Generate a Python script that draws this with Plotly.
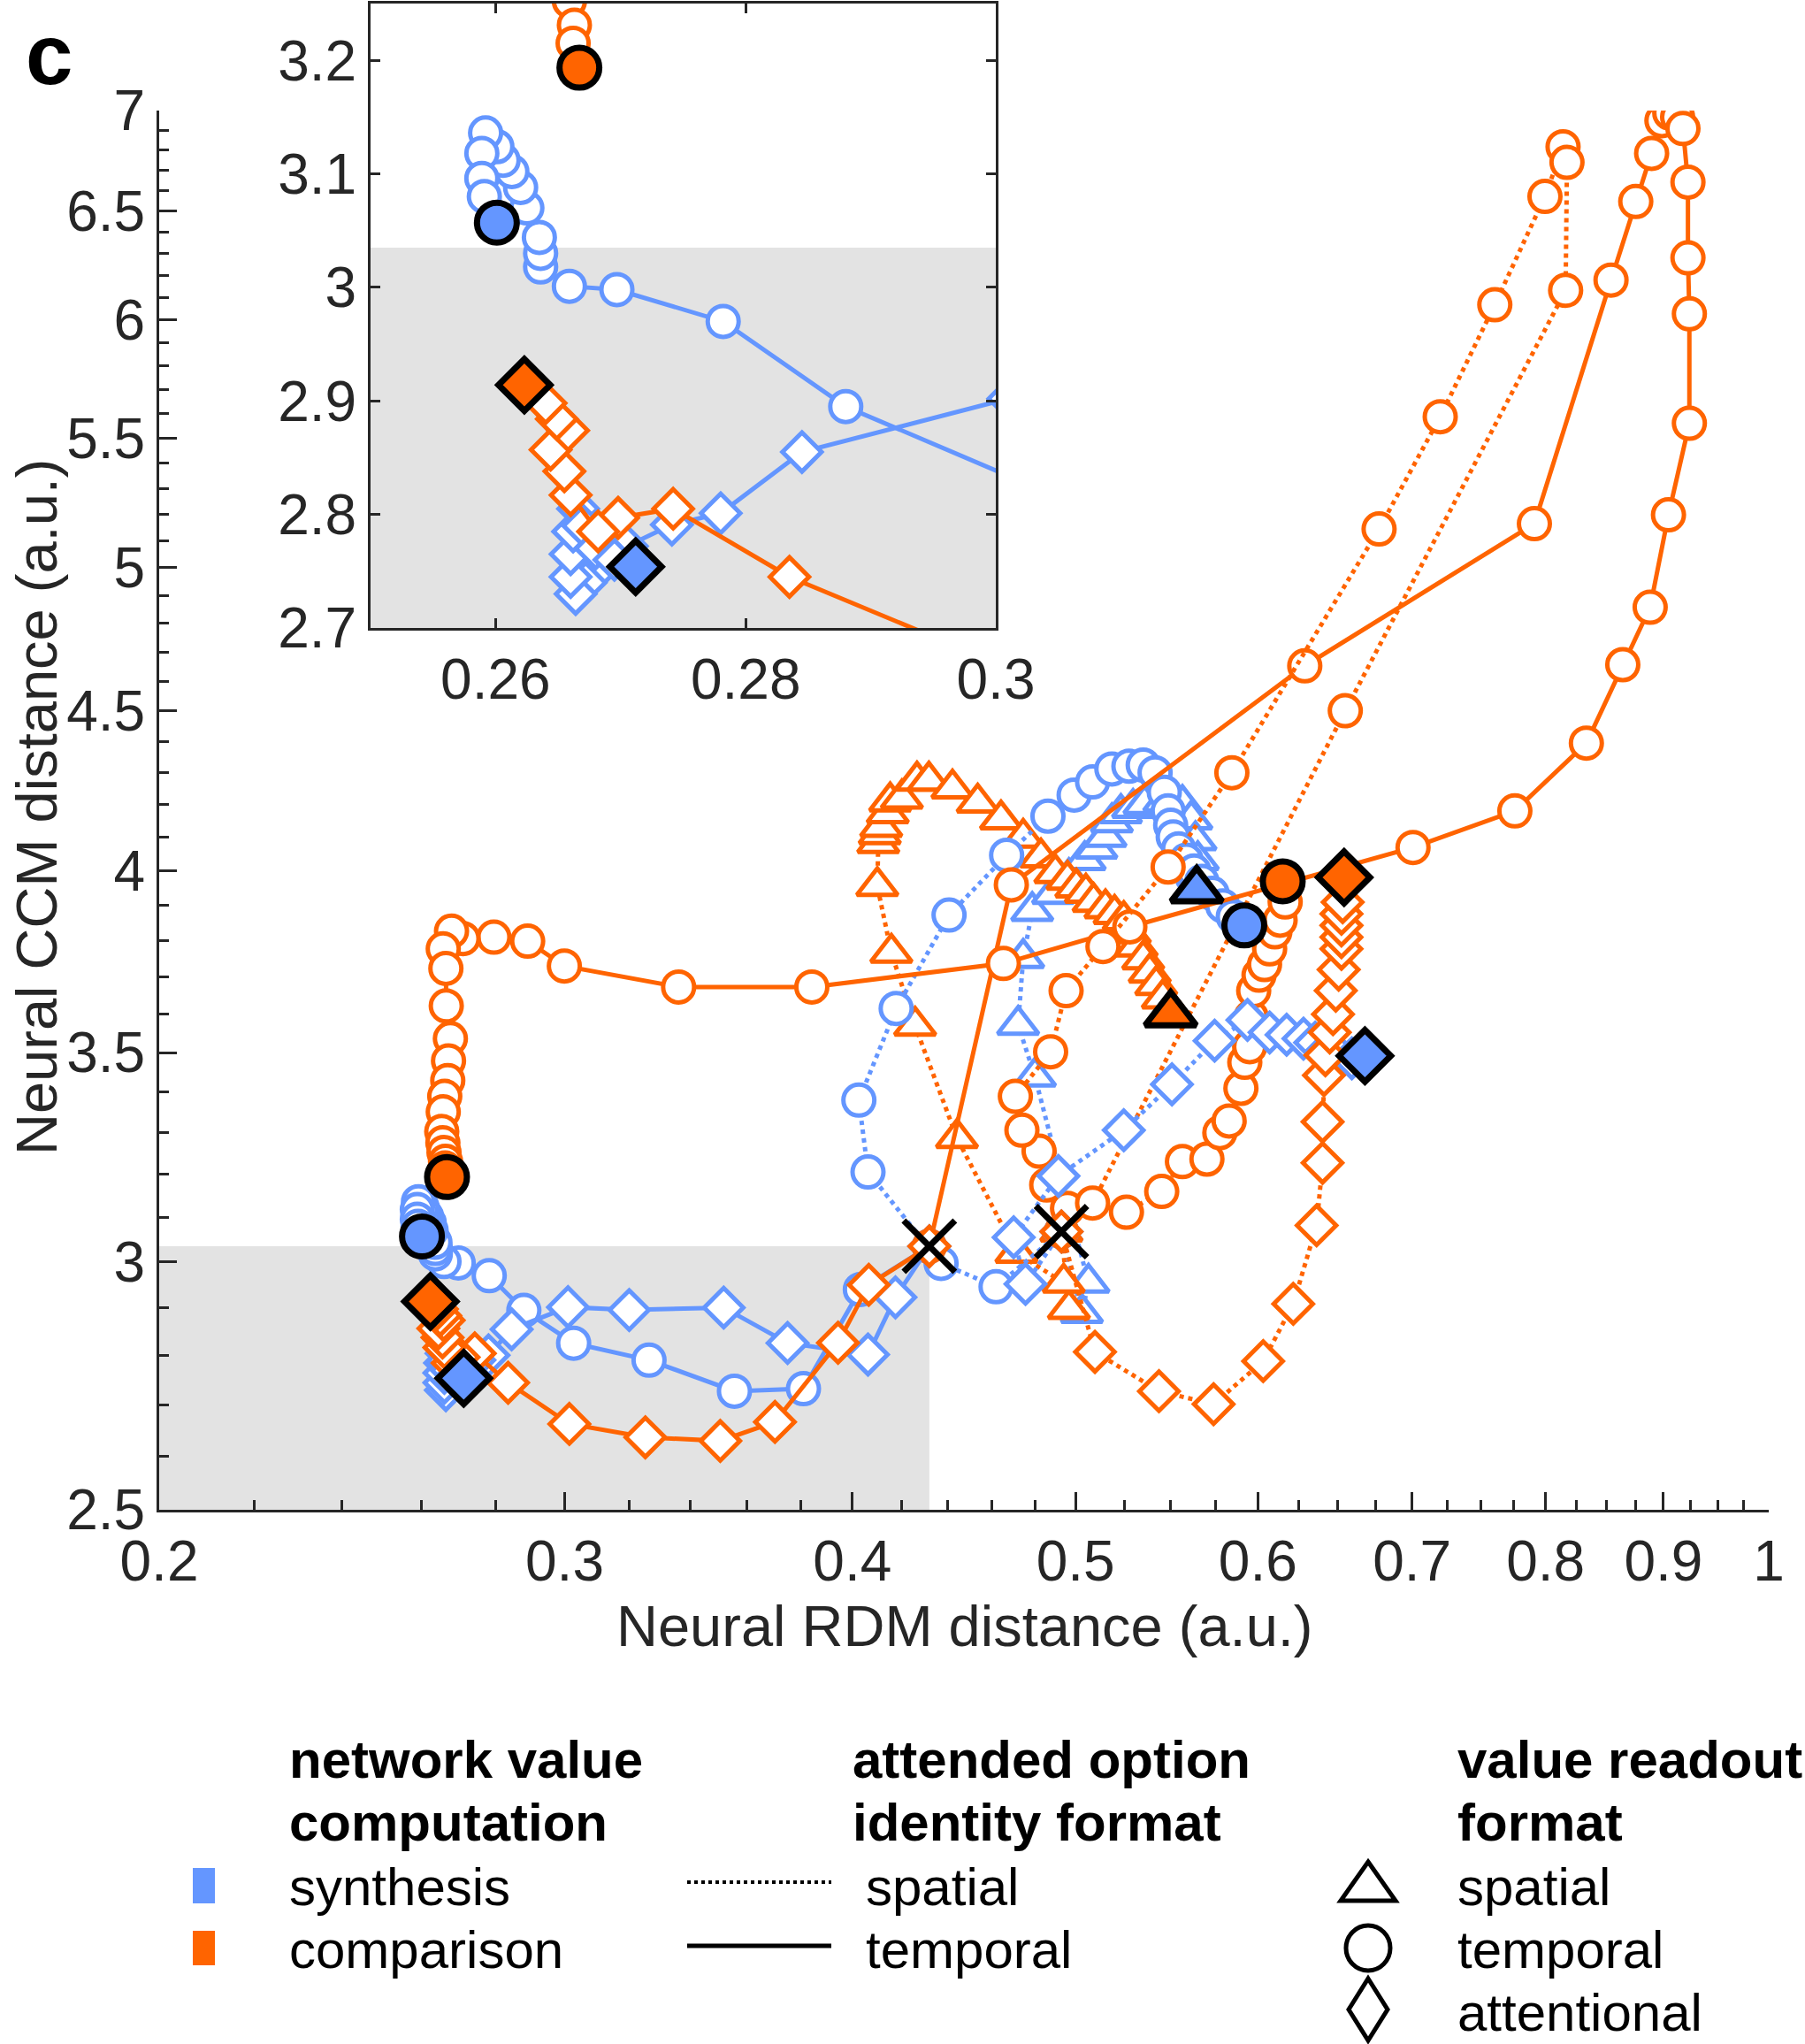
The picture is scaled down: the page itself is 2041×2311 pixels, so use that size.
import plotly.graph_objects as go

W, H = 2041, 2311
BLUE = "#6496FF"
ORANGE = "#FF6400"
AXC = "#262626"
FONT = "Liberation Sans"

# starting points (X markers): temporal identity format, spatial identity format
start_x = [0.432, 0.493]
start_y = [3.035, 3.068]

# synthesis, temporal identity, temporal readout (circles, solid)
syn_tid_circ_x = [0.432, 0.4032, 0.3809, 0.3555, 0.3264, 0.3027, 0.2880, 0.2782, 0.2697, 0.2659, 0.2636, 0.2636,
                  0.2635, 0.2625, 0.2620, 0.2613, 0.2606, 0.2601, 0.2592, 0.2589, 0.2589, 0.2591, 0.2601]
syn_tid_circ_y = [3.035, 2.940, 2.733, 2.728, 2.791, 2.826, 2.895, 2.970, 2.998, 3.001, 3.018, 3.030,
                  3.044, 3.070, 3.088, 3.102, 3.112, 3.124, 3.136, 3.118, 3.096, 3.080, 3.057]

# synthesis, temporal identity, attentional readout (diamonds, solid)
syn_tid_diam_x = [0.432, 0.4176, 0.4063, 0.3749, 0.3517, 0.3200, 0.3010, 0.2845, 0.2780, 0.2741, 0.2705, 0.2685,
                  0.2672, 0.2664, 0.2660, 0.2660, 0.2662, 0.2666, 0.2670, 0.2680, 0.2695, 0.2712]
syn_tid_diam_y = [3.035, 2.923, 2.8025, 2.8265, 2.901, 2.896, 2.902, 2.855, 2.801, 2.791, 2.772, 2.755,
                  2.740, 2.730, 2.745, 2.765, 2.785, 2.805, 2.790, 2.770, 2.760, 2.754]

# comparison, temporal identity, temporal readout (circles, solid)
com_tid_circ_x = [0.432, 0.4689, 0.6288, 0.7911, 0.8541, 0.8755, 0.8895, 0.8987, 0.9058, 0.9129, 0.9178, 0.9224,
                  0.9224, 0.9237, 0.9237, 0.9046, 0.8882, 0.8642, 0.8333, 0.7758, 0.7007, 0.5279, 0.4652, 0.3841,
                  0.3362, 0.2999, 0.2891, 0.2795, 0.2710, 0.2679, 0.2657, 0.2664, 0.2665, 0.2676, 0.2671, 0.2669,
                  0.2661, 0.2657, 0.2653, 0.2656, 0.2659, 0.2663, 0.2662, 0.2667]
com_tid_circ_y = [3.035, 3.9595, 4.652, 5.165, 6.179, 6.547, 6.783, 6.948, 6.9875, 6.967, 6.908, 6.641,
                  6.281, 6.0275, 5.561, 5.199, 4.857, 4.656, 4.395, 4.181, 4.070, 3.839, 3.737, 3.673,
                  3.673, 3.730, 3.799, 3.810, 3.806, 3.827, 3.7775, 3.7235, 3.622, 3.536, 3.4785, 3.4285,
                  3.389, 3.3505, 3.3025, 3.275, 3.252, 3.231, 3.215, 3.1935]

# comparison, temporal identity, attentional readout (diamonds, solid)
com_tid_diam_x = [0.432, 0.4066, 0.3943, 0.3702, 0.3505, 0.3252, 0.3014, 0.2835, 0.2742, 0.2698, 0.2682, 0.2660,
                  0.2655, 0.2644, 0.2658, 0.2649, 0.2640, 0.2623]
com_tid_diam_y = [3.035, 2.950, 2.827, 2.667, 2.630, 2.637, 2.663, 2.745, 2.805, 2.797, 2.785, 2.817,
                  2.838, 2.857, 2.874, 2.884, 2.898, 2.914]

# synthesis, spatial identity, temporal readout (circles, dotted)
syn_sid_circ_x = [0.493, 0.4618, 0.4371, 0.4063, 0.4026, 0.4179, 0.4406, 0.4667, 0.4864, 0.4993, 0.5086, 0.5185,
                  0.5274, 0.5350, 0.5414, 0.5464, 0.5485, 0.5499, 0.5513, 0.5543, 0.5585, 0.5629, 0.5673, 0.5732,
                  0.5793, 0.5854, 0.5919]
syn_sid_circ_y = [3.068, 2.946, 2.997, 3.2055, 3.3795, 3.6155, 3.8725, 4.047, 4.165, 4.230, 4.271, 4.312,
                  4.321, 4.3245, 4.300, 4.239, 4.181, 4.137, 4.102, 4.066, 4.032, 4.000, 3.970, 3.935,
                  3.899, 3.868, 3.843]

# synthesis, spatial identity, attentional readout (diamonds, dotted)
syn_sid_diam_x = [0.493, 0.4756, 0.4700, 0.4915, 0.5247, 0.5506, 0.5746, 0.5938, 0.6071, 0.6175, 0.6280, 0.6354,
                  0.6429, 0.6505, 0.6591, 0.6678]
syn_sid_diam_y = [3.068, 2.952, 3.055, 3.196, 3.3055, 3.419, 3.5305, 3.585, 3.552, 3.546, 3.536, 3.5255,
                  3.505, 3.4915, 3.485, 3.4915]

# synthesis, spatial identity, spatial readout (triangles, dotted)
syn_sid_tri_x = [0.493, 0.5032, 0.5065, 0.4801, 0.4721, 0.4745, 0.4788, 0.4889, 0.4967, 0.5046, 0.5105, 0.5152,
                 0.5185, 0.5232, 0.5296, 0.5357, 0.5464, 0.5564, 0.5614, 0.5637, 0.5650, 0.5650, 0.5644]
syn_sid_tri_y = [3.068, 2.8895, 2.9545, 3.4385, 3.572, 3.752, 3.884, 3.933, 3.9815, 4.032, 4.0665, 4.102,
                 4.146, 4.174, 4.190, 4.202, 4.210, 4.202, 4.1545, 4.0915, 4.032, 3.986, 3.944]

# comparison, spatial identity, temporal readout (circles, dotted)
com_sid_circ_x = [0.493, 0.4960, 0.4858, 0.4821, 0.4739, 0.4708, 0.4877, 0.4953, 0.5139, 0.5485, 0.5846, 0.6773,
                  0.7200, 0.7604, 0.7995, 0.8141, 0.8173, 0.8162, 0.6548, 0.5086, 0.5261, 0.5450, 0.5564, 0.5702,
                  0.5776, 0.5830, 0.5899, 0.5922, 0.5951, 0.5960, 0.5975, 0.6007, 0.6040, 0.6071, 0.6103, 0.6135,
                  0.6166, 0.6151]
com_sid_circ_y = [3.068, 3.1205, 3.175, 3.255, 3.3055, 3.389, 3.502, 3.663, 3.784, 4.012, 4.300, 5.145,
                  5.588, 6.068, 6.5715, 6.816, 6.738, 6.1325, 4.501, 3.133, 3.112, 3.160, 3.230, 3.236,
                  3.2995, 3.328, 3.409, 3.475, 3.515, 3.593, 3.663, 3.705, 3.734, 3.7775, 3.825, 3.858,
                  3.910, 3.970]

# comparison, spatial identity, attentional readout (diamonds, dotted)
com_sid_diam_x = [0.493, 0.5098, 0.5435, 0.5740, 0.6032, 0.6216, 0.6363, 0.6401, 0.6401, 0.6410, 0.6419, 0.6447,
                  0.6468, 0.6486, 0.6505, 0.6523, 0.6523, 0.6523, 0.6523, 0.6531, 0.6540]
com_sid_diam_y = [3.068, 2.808, 2.728, 2.702, 2.789, 2.909, 3.082, 3.227, 3.326, 3.442, 3.493, 3.552,
                  3.600, 3.663, 3.720, 3.7775, 3.810, 3.843, 3.876, 3.9095, 3.9815]

# comparison, spatial identity, spatial readout (triangles, dotted)
com_sid_tri_x = [0.493, 0.4967, 0.4941, 0.4713, 0.4441, 0.4259, 0.4159, 0.4101, 0.4105, 0.4111, 0.4117, 0.4144,
                 0.4154, 0.4203, 0.4267, 0.4318, 0.4421, 0.4534, 0.4641, 0.4745, 0.4830, 0.4900, 0.4960, 0.5004,
                 0.5052, 0.5091, 0.5152, 0.5199, 0.5247, 0.5279, 0.5315, 0.5350, 0.5385, 0.5420, 0.5456, 0.5499]
com_sid_tri_y = [3.068, 2.898, 2.9545, 3.0205, 3.2865, 3.5695, 3.7665, 3.956, 4.083, 4.110, 4.132, 4.174,
                 4.210, 4.219, 4.275, 4.275, 4.2505, 4.2065, 4.1545, 4.099, 4.040, 3.9935, 3.974, 3.9515,
                 3.9365, 3.910, 3.8918, 3.8755, 3.858, 3.821, 3.784, 3.748, 3.712, 3.678, 3.642, 3.600]

# axis ticks
main_x_ticks = [0.2, 0.3, 0.4, 0.5, 0.6, 0.7, 0.8, 0.9, 1.0]
main_x_labels = ["0.2", "0.3", "0.4", "0.5", "0.6", "0.7", "0.8", "0.9", "1"]
main_y_ticks = [2.5, 3, 3.5, 4, 4.5, 5, 5.5, 6, 6.5, 7]
main_y_labels = ["2.5", "3", "3.5", "4", "4.5", "5", "5.5", "6", "6.5", "7"]
inset_x_ticks = [0.26, 0.28, 0.30]
inset_x_labels = ["0.26", "0.28", "0.3"]
inset_y_ticks = [2.7, 2.8, 2.9, 3.0, 3.1, 3.2]
inset_y_labels = ["2.7", "2.8", "2.9", "3", "3.1", "3.2"]
main_x_minor = [round(0.22 + 0.02 * i, 3) for i in range(14)] + [round(0.525 + 0.025 * i, 3) for i in range(19)]
main_x_minor = [v for v in main_x_minor if all(abs(v - t) > 1e-6 for t in main_x_ticks)]
main_y_minor = [round(2.6 + 0.1 * i, 2) for i in range(44)]
main_y_minor = [v for v in main_y_minor if all(abs(v - t) > 1e-6 for t in main_y_ticks)]

fig = go.Figure()

series = [
    (syn_sid_tri_x, syn_sid_tri_y, BLUE, "dot", "triangle-up"),
    (com_sid_tri_x, com_sid_tri_y, ORANGE, "dot", "triangle-up"),
    (syn_tid_circ_x, syn_tid_circ_y, BLUE, "solid", "circle"),
    (syn_sid_circ_x, syn_sid_circ_y, BLUE, "dot", "circle"),
    (com_tid_circ_x, com_tid_circ_y, ORANGE, "solid", "circle"),
    (com_sid_circ_x, com_sid_circ_y, ORANGE, "dot", "circle"),
    (syn_tid_diam_x, syn_tid_diam_y, BLUE, "solid", "diamond"),
    (syn_sid_diam_x, syn_sid_diam_y, BLUE, "dot", "diamond"),
    (com_tid_diam_x, com_tid_diam_y, ORANGE, "solid", "diamond"),
    (com_sid_diam_x, com_sid_diam_y, ORANGE, "dot", "diamond"),
]
SIZE = {"circle": 35, "triangle-up": 40, "diamond": 34}
END_SIZE = {"circle": 45, "triangle-up": 50, "diamond": 45}
LW = 5

for xa, ya in (("x", "y"), ("x2", "y2")):
    for sx, sy, col, dash, sym in series:
        fig.add_trace(go.Scatter(
            x=sx, y=sy, mode="lines+markers", xaxis=xa, yaxis=ya,
            line=dict(color=col, width=LW, dash=dash),
            marker=dict(symbol=sym, size=SIZE[sym], color="white", line=dict(color=col, width=LW)),
            showlegend=False, hoverinfo="skip"))
    for sx, sy, col, dash, sym in series:
        fig.add_trace(go.Scatter(
            x=[sx[-1]], y=[sy[-1]], mode="markers", xaxis=xa, yaxis=ya,
            marker=dict(symbol=sym, size=END_SIZE[sym], color=col, line=dict(color="black", width=7)),
            showlegend=False, hoverinfo="skip"))
    if xa == "x":
        fig.add_trace(go.Scatter(
            x=start_x, y=start_y, mode="markers", xaxis=xa, yaxis=ya,
            marker=dict(symbol="x-thin", size=58, color="black", line=dict(color="black", width=7)),
            showlegend=False, hoverinfo="skip"))

# shaded region: better than start in both distances
fig.add_shape(type="rect", xref="x", yref="y", x0=0.2, x1=start_x[0], y0=2.5, y1=start_y[0],
              fillcolor="#E3E3E3", line=dict(width=0), layer="below")
fig.add_shape(type="rect", xref="x2", yref="y2", x0=0.2, x1=start_x[0], y0=2.5, y1=start_y[0],
              fillcolor="#E3E3E3", line=dict(width=0), layer="below")

def px(x):
    return x / W

def py(y):
    return 1 - y / H

tickfont = dict(family=FONT, size=64, color=AXC)

fig.update_layout(
    width=W, height=H, margin=dict(l=0, r=0, t=0, b=0, autoexpand=False),
    paper_bgcolor="white", plot_bgcolor="white", showlegend=False,
    font=dict(family=FONT, color=AXC),
    xaxis=dict(type="log", range=[-0.69897, 0.0], domain=[px(180), px(2000)], automargin=False,
               tickvals=main_x_ticks, ticktext=main_x_labels, ticks="inside", ticklen=20, tickwidth=3,
               tickcolor=AXC, showline=True, linecolor=AXC, linewidth=3, showgrid=False, zeroline=False,
               tickfont=tickfont, anchor="y",
               minor=dict(tickvals=main_x_minor, ticks="inside", ticklen=11, tickwidth=3, tickcolor=AXC, showgrid=False)),
    yaxis=dict(type="log", range=[0.39794, 0.845098], domain=[py(1707), py(125)], automargin=False,
               tickvals=main_y_ticks, ticktext=main_y_labels, ticks="inside", ticklen=20, tickwidth=3,
               tickcolor=AXC, showline=True, linecolor=AXC, linewidth=3, showgrid=False, zeroline=False,
               tickfont=tickfont, anchor="x",
               minor=dict(tickvals=main_y_minor, ticks="inside", ticklen=11, tickwidth=3, tickcolor=AXC, showgrid=False)),
    xaxis2=dict(range=[0.25, 0.30], domain=[px(419), px(1126)], anchor="y2", automargin=False,
                tickvals=inset_x_ticks, ticktext=inset_x_labels, ticks="inside", ticklen=11, tickwidth=3,
                tickcolor=AXC, showline=True, mirror="ticks", linecolor=AXC, linewidth=3, showgrid=False,
                zeroline=False, tickfont=tickfont),
    yaxis2=dict(range=[2.7, 3.25], domain=[py(710), py(4)], anchor="x2", automargin=False,
                tickvals=inset_y_ticks, ticktext=inset_y_labels, ticks="inside", ticklen=11, tickwidth=3,
                tickcolor=AXC, showline=True, mirror="ticks", linecolor=AXC, linewidth=3, showgrid=False,
                zeroline=False, tickfont=tickfont),
)

ann = []
ann.append(dict(text="<b>c</b>", x=px(55), y=py(62), xref="paper", yref="paper", showarrow=False,
                font=dict(family=FONT, size=96, color="black"), xanchor="center", yanchor="middle"))
ann.append(dict(text="Neural RDM distance (a.u.)", x=px(1091), y=py(1838), xref="paper", yref="paper",
                showarrow=False, font=dict(family=FONT, size=65, color=AXC), xanchor="center", yanchor="middle"))
ann.append(dict(text="Neural CCM distance (a.u.)", x=px(42), y=py(912), xref="paper", yref="paper",
                showarrow=False, textangle=-90, font=dict(family=FONT, size=65, color=AXC),
                xanchor="center", yanchor="middle"))

legend_font = dict(family=FONT, size=60, color="black")
def text(t, x, y, bold=False):
    ann.append(dict(text=("<b>%s</b>" % t) if bold else t, x=px(x), y=py(y), xref="paper", yref="paper",
                    showarrow=False, font=legend_font, xanchor="left", yanchor="middle"))

text("network value", 325, 1989, True)
text("computation", 325, 2060, True)
text("synthesis", 325, 2133)
text("comparison", 325, 2204)
text("attended option", 962, 1989, True)
text("identity format", 962, 2060, True)
text("spatial", 977, 2133)
text("temporal", 977, 2204)
text("value readout", 1646, 1989, True)
text("format", 1646, 2060, True)
text("spatial", 1646, 2133)
text("temporal", 1646, 2204)
text("attentional", 1646, 2275)
fig.update_layout(annotations=ann)

def rect(x0, x1, y0, y1, col):
    fig.add_shape(type="rect", xref="paper", yref="paper", x0=px(x0), x1=px(x1), y0=py(y1), y1=py(y0),
                  fillcolor=col, line=dict(width=0))

rect(218, 243, 2112, 2152, BLUE)
rect(218, 243, 2183, 2222, ORANGE)
fig.add_shape(type="line", xref="paper", yref="paper", x0=px(777), x1=px(940), y0=py(2128), y1=py(2128),
              line=dict(color="black", width=4, dash="dot"))
fig.add_shape(type="line", xref="paper", yref="paper", x0=px(777), x1=px(940), y0=py(2200), y1=py(2200),
              line=dict(color="black", width=5))

def path(pts):
    return "M " + " L ".join("%f,%f" % (px(a), py(b)) for a, b in pts) + " Z"

# triangle glyph
fig.add_shape(type="path", xref="paper", yref="paper",
              path=path([(1547, 2105), (1578, 2149), (1516, 2149)]), line=dict(color="black", width=5))
# circle glyph
fig.add_shape(type="circle", xref="paper", yref="paper", x0=px(1522), x1=px(1572), y0=py(2228), y1=py(2177),
              line=dict(color="black", width=5))
# diamond glyph
fig.add_shape(type="path", xref="paper", yref="paper",
              path=path([(1547, 2237), (1569, 2272), (1547, 2307), (1525, 2272)]), line=dict(color="black", width=5))

fig.write_html("out.html")
